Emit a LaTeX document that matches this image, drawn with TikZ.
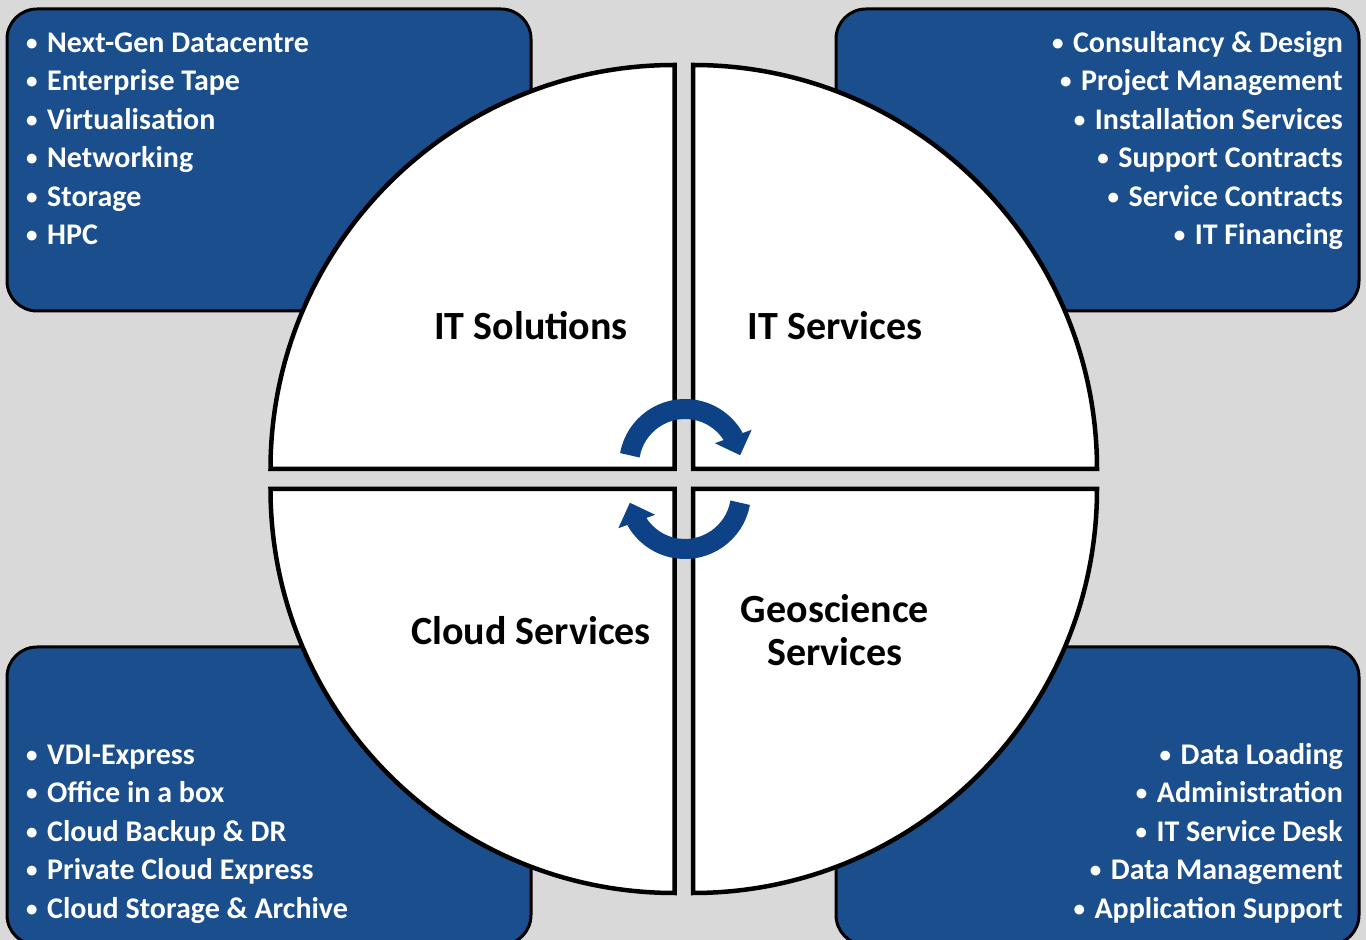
\documentclass[tikz,border=0pt]{standalone}
\usepackage{fontspec}
\setmainfont{Carlito}
\usepackage{xcolor}
\usepackage{tikz}
\usetikzlibrary{arrows.meta}
\usetikzlibrary{bending}
\definecolor{panelblue}{RGB}{27,78,140}
\definecolor{arrowblue}{RGB}{14,66,135}
\definecolor{backgray}{RGB}{217,217,217}
\newcommand*{\listdot}{\makebox[22pt][l]{\hspace{1pt}\raisebox{2pt}{\fontsize{23}{23}\selectfont•}}}

\begin{document}
\begin{tikzpicture}[x=1pt,y=1pt,
  panel/.style={draw=black,line width=3pt,fill=panelblue,rounded corners=30pt},
  quarter/.style={draw=black,line width=4.5pt,fill=white},
  item/.style={text=white,inner sep=0pt,font=\fontsize{30}{36}\selectfont\bfseries},
  sector/.style={text=black,inner sep=0pt,align=center,font=\fontsize{40}{43}\selectfont\bfseries},
  turn/.style={draw=arrowblue,line width=20pt,-{Triangle[length=20pt,width=38pt,flex]}}]
\useasboundingbox (0,0) rectangle (1366,940);
\clip (0,0) rectangle (1366,940);
\fill[backgray] (0,0) rectangle (1366,940);

% corner panels
\draw[panel] (7,629) rectangle (531,931);
\draw[panel] (836,629) rectangle (1359,931);
\draw[panel] (7,-5) rectangle (531,293);
\draw[panel] (836,-5) rectangle (1359,293);

% quarter discs
\draw[quarter] (674.5,471) -- ++(-404,0) arc[start angle=180,end angle=90,radius=404] -- cycle;
\draw[quarter] (693,471) -- ++(0,404) arc[start angle=90,end angle=0,radius=404] -- cycle;
\draw[quarter] (674.5,451) -- ++(0,-404) arc[start angle=270,end angle=180,radius=404] -- cycle;
\draw[quarter] (693,451) -- ++(404,0) arc[start angle=0,end angle=-90,radius=404] -- cycle;

% sector titles
\node[sector,anchor=base] (sol) at (531,600) {IT Solutions};
\node[sector,anchor=base] (srv) at (835,600) {IT Services};
\node[sector,anchor=base] (cld) at (531,295) {Cloud Services};
\node[sector] (geo) at (835,310) {Geoscience\\Services};

% bullet lists
\foreach \txt [count=\i] in {Next-Gen Datacentre,Enterprise Tape,Virtualisation,Networking,Storage,HPC}
  \node[item,anchor=base west] (sol item\i) at (25,{925.9-38.4*\i}) {\listdot\txt};
\foreach \txt [count=\i] in {Consultancy \& Design,Project Management,Installation Services,Support Contracts,Service Contracts,IT Financing}
  \node[item,anchor=base east] (srv item\i) at (1343,{925.9-38.4*\i}) {\listdot\txt};
\foreach \txt [count=\i] in {VDI-Express,Office in a box,Cloud Backup \& DR,Private Cloud Express,Cloud Storage \& Archive}
  \node[item,anchor=base west] (cld item\i) at (25,{213.9-38.4*\i}) {\listdot\txt};
\foreach \txt [count=\i] in {Data Loading,Administration,IT Service Desk,Data Management,Application Support}
  \node[item,anchor=base east] (geo item\i) at (1343,{213.9-38.4*\i}) {\listdot\txt};

% cycle arrows
\coordinate (hubtop) at (685,475);
\coordinate (hubbot) at (685,447);
\draw[turn] ([shift={(170:56)}]hubtop) arc[start angle=170,end angle=10,radius=56];
\draw[turn] ([shift={(-10:56)}]hubbot) arc[start angle=-10,end angle=-170,radius=56];

\end{tikzpicture}
\end{document}
